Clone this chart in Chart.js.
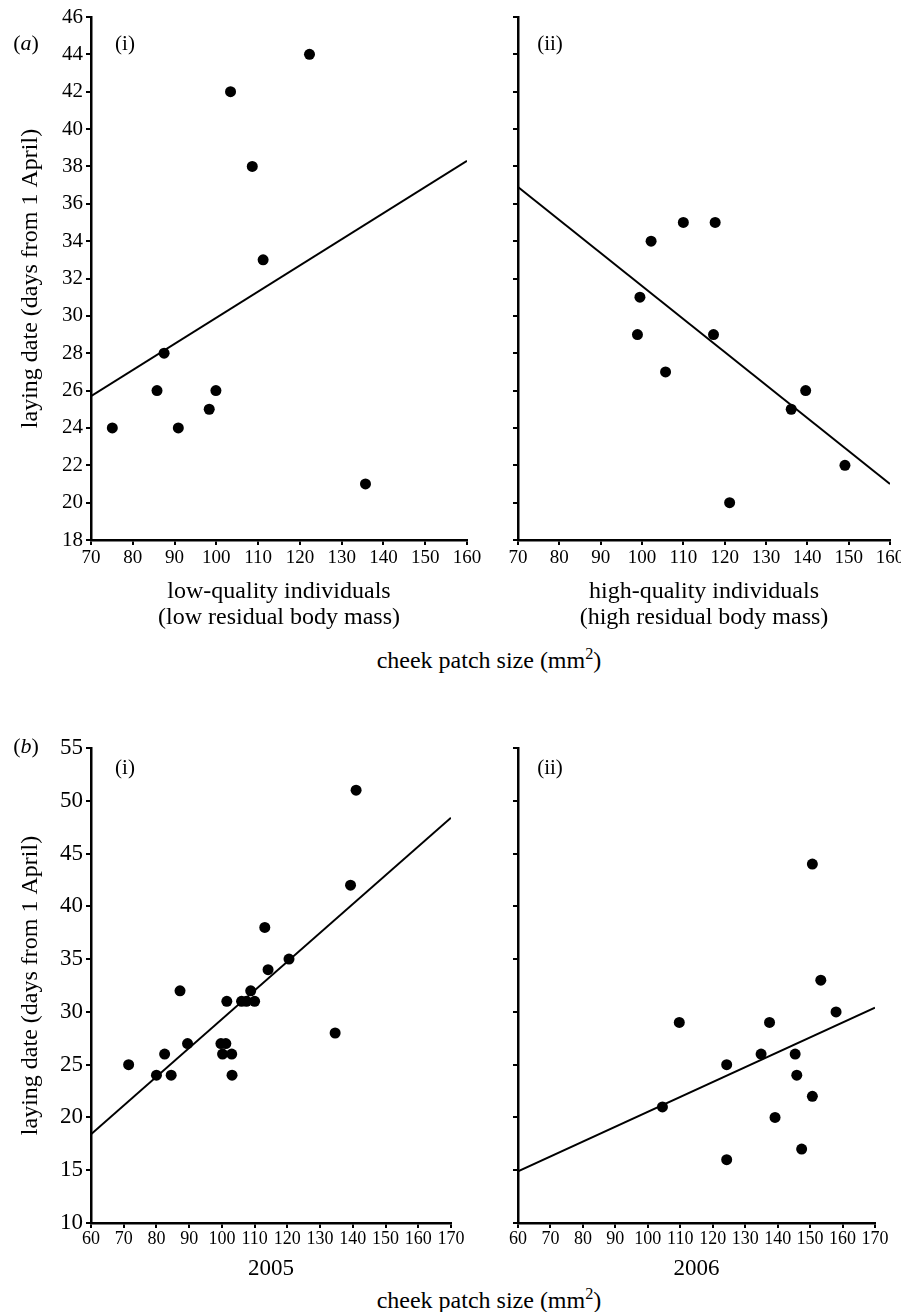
<!DOCTYPE html>
<html>
<head>
<meta charset="utf-8">
<script src="https://cdn.jsdelivr.net/npm/chart.js@4.4.1/dist/chart.umd.min.js"></script>
<style>
html, body { margin: 0; padding: 0; background: #fff; overflow: hidden; width: 901px; height: 1312px; }
body { position: relative; font-family: "Liberation Serif", serif; color: #000; }
canvas { position: absolute; }
.lbl { position: absolute; transform: translate(-50%, -50%); white-space: nowrap; font-size: 21px; line-height: 1; }
.tag { font-size: 22px; }
.big { font-size: 24px; }
sup { font-size: 0.68em; line-height: 0; vertical-align: 0.55em; }
</style>
</head>
<body>
<canvas id="a1" width="500" height="630" style="left:0px;top:0px"></canvas>
<canvas id="a2" width="420" height="630" style="left:500px;top:0px"></canvas>
<canvas id="b1" width="481" height="552" style="left:0px;top:731px"></canvas>
<canvas id="b2" width="405" height="552" style="left:500px;top:731px"></canvas>

<div class="lbl tag" style="left:26px;top:43px">(<i>a</i>)</div>
<div class="lbl" style="left:125px;top:43px">(i)</div>
<div class="lbl" style="left:550px;top:43px">(ii)</div>
<div class="lbl big" style="left:489px;top:660px">cheek patch size (mm<sup>2</sup>)</div>
<div class="lbl tag" style="left:26px;top:746px">(<i>b</i>)</div>
<div class="lbl" style="left:125px;top:767px">(i)</div>
<div class="lbl" style="left:550px;top:767px">(ii)</div>
<div class="lbl big" style="left:489px;top:1300px">cheek patch size (mm<sup>2</sup>)</div>

<script>
// (a)(i) low-quality individuals
const lowX = [75.1, 85.8, 87.5, 90.9, 98.3, 99.9, 103.4, 108.6, 111.2, 122.3, 135.7];
const lowY = [24, 26, 28, 24, 25, 26, 42, 38, 33, 44, 21];
const lowFitX = [70, 160];
const lowFitY = [25.7, 38.3];

// (a)(ii) high-quality individuals
const highX = [98.9, 99.5, 102.2, 105.7, 110.0, 117.7, 117.3, 121.2, 136.1, 139.6, 149.1];
const highY = [29, 31, 34, 27, 35, 35, 29, 20, 25, 26, 22];
const highFitX = [70, 160];
const highFitY = [36.9, 21.0];

// (b)(i) 2005
const y2005X = [71.5, 80, 82.5, 84.5, 87.2, 89.5, 99.7, 101.2, 100.2, 103, 101.5, 103.1, 106, 107.5, 108.8, 110, 113.1, 114.1, 120.5, 134.6, 139.3, 141];
const y2005Y = [25, 24, 26, 24, 32, 27, 27, 27, 26, 26, 31, 24, 31, 31, 32, 31, 38, 34, 35, 28, 42, 51];
const fit2005X = [60, 170];
const fit2005Y = [18.4, 48.4];

// (b)(ii) 2006
const y2006X = [104.5, 109.7, 124.3, 124.3, 134.9, 137.5, 139.2, 145.4, 145.9, 150.7, 150.7, 147.4, 153.3, 158];
const y2006Y = [21, 29, 25, 16, 26, 29, 20, 26, 24, 44, 22, 17, 33, 30];
const fit2006X = [60, 170];
const fit2006Y = [14.9, 30.4];

const yTitle = 'laying date (days from 1 April)';
const serif = 'Liberation Serif';

function panel(id, xs, ys, fitX, fitY, o) {
  const pts = xs.map((x, i) => ({x: x, y: ys[i]}));
  const fit = fitX.map((x, i) => ({x: x, y: fitY[i]}));
  const axisGrid = {drawOnChartArea: false, drawTicks: true, tickLength: 5, color: '#000', lineWidth: 2};
  const axisBorder = {display: true, color: '#000', width: 2.5};
  new Chart(document.getElementById(id), {
    type: 'scatter',
    data: {
      datasets: [
        {data: pts, pointRadius: 5.5, pointHoverRadius: 5.5, backgroundColor: '#000', borderWidth: 0, order: 0},
        {data: fit, showLine: true, borderColor: '#000', borderWidth: 2, pointRadius: 0, order: 1}
      ]
    },
    options: {
      responsive: false,
      animation: false,
      devicePixelRatio: 1,
      layout: {padding: {left: 0, top: 17, right: o.right, bottom: 0}},
      plugins: {legend: {display: false}, tooltip: {enabled: false}},
      scales: {
        x: {
          type: 'linear', position: 'bottom', min: o.xMin, max: o.xMax,
          ticks: {stepSize: 10, color: '#000', padding: o.xPad, maxRotation: 0, minRotation: 0, autoSkip: false,
                  font: {family: serif, size: o.xFont}},
          grid: axisGrid,
          border: axisBorder,
          title: {display: true, text: o.xTitle, color: '#000', padding: {top: 0, bottom: 0},
                  font: {family: serif, size: o.xTitleSize, lineHeight: o.xTitleLH}},
          afterFit: function (s) { s.height = o.xh; }
        },
        y: {
          type: 'linear', position: 'left', min: o.yMin, max: o.yMax,
          ticks: {stepSize: o.yStep, display: o.yLabels, color: '#000', padding: 3,
                  font: {family: serif, size: o.yFont}},
          grid: axisGrid,
          border: axisBorder,
          title: {display: o.yLabels, text: yTitle, color: '#000', padding: {top: 16, bottom: 0},
                  font: {family: serif, size: 24}},
          afterFit: function (s) { s.width = o.yw; }
        }
      }
    }
  });
}

panel('a1', lowX, lowY, lowFitX, lowFitY, {
  xMin: 70, xMax: 160, yMin: 18, yMax: 46, yStep: 2, yLabels: true, yw: 91, right: 33,
  xh: 90, xFont: 19, xPad: 2, yFont: 21,
  xTitle: ['low-quality individuals', '(low residual body mass)'], xTitleSize: 24, xTitleLH: 1.05
});
panel('a2', highX, highY, highFitX, highFitY, {
  xMin: 70, xMax: 160, yMin: 18, yMax: 46, yStep: 2, yLabels: false, yw: 18, right: 30,
  xh: 90, xFont: 19, xPad: 2, yFont: 21,
  xTitle: ['high-quality individuals', '(high residual body mass)'], xTitleSize: 24, xTitleLH: 1.05
});
panel('b1', y2005X, y2005Y, fit2005X, fit2005Y, {
  xMin: 60, xMax: 170, yMin: 10, yMax: 55, yStep: 5, yLabels: true, yw: 91, right: 30,
  xh: 60, xFont: 18, xPad: 0, yFont: 23,
  xTitle: '2005', xTitleSize: 23, xTitleLH: 1.2
});
panel('b2', y2006X, y2006Y, fit2006X, fit2006Y, {
  xMin: 60, xMax: 170, yMin: 10, yMax: 55, yStep: 5, yLabels: false, yw: 18, right: 30,
  xh: 60, xFont: 18, xPad: 0, yFont: 23,
  xTitle: '2006', xTitleSize: 23, xTitleLH: 1.2
});
</script>
</body>
</html>
